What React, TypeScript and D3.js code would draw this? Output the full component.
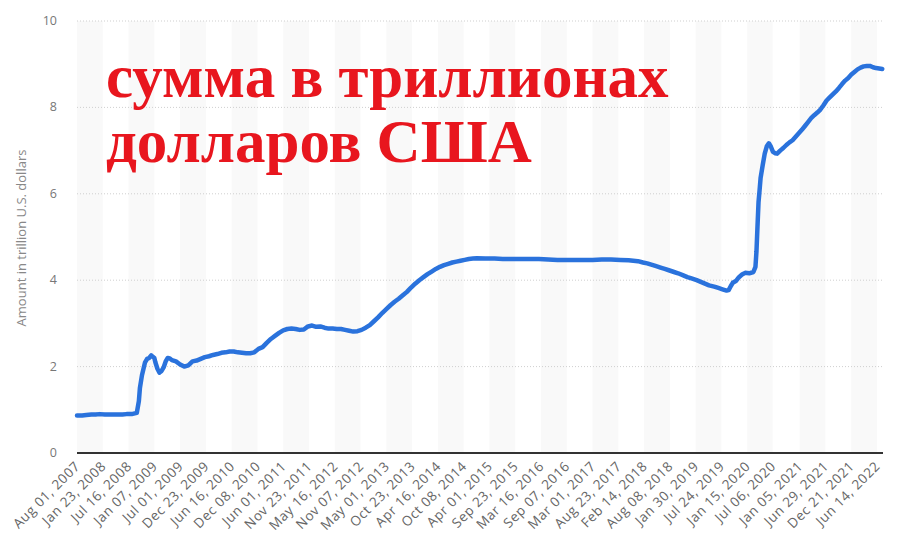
import React, { useEffect, useRef } from 'react';
import * as d3 from 'd3';

// Weekly-ish readings of the balance sheet, trillion U.S. dollars
const dates = [
  '2007-08-01', '2007-09-05', '2007-10-03', '2007-11-07', '2007-12-05',
  '2008-01-02', '2008-02-06', '2008-03-05', '2008-04-02', '2008-05-07', '2008-06-04',
  '2008-07-02', '2008-08-06', '2008-09-10', '2008-09-24', '2008-10-01', '2008-10-15',
  '2008-11-05', '2008-11-19', '2008-12-03', '2008-12-17',
  '2009-01-07', '2009-01-14', '2009-01-28', '2009-02-11', '2009-02-25', '2009-03-11',
  '2009-03-25', '2009-04-08', '2009-04-22', '2009-05-06', '2009-06-03', '2009-07-01',
  '2009-07-29', '2009-08-26', '2009-09-23', '2009-10-21', '2009-11-18', '2009-12-16',
  '2010-01-13', '2010-02-10', '2010-03-10', '2010-04-07', '2010-05-05', '2010-06-02',
  '2010-06-30', '2010-07-28', '2010-08-25', '2010-09-22', '2010-10-20', '2010-11-17',
  '2010-12-15',
  '2011-01-12', '2011-02-09', '2011-03-09', '2011-04-06', '2011-05-04', '2011-06-01',
  '2011-06-29', '2011-07-27', '2011-08-24', '2011-09-21', '2011-10-19', '2011-11-16',
  '2011-12-14',
  '2012-01-11', '2012-02-08', '2012-03-07', '2012-04-04', '2012-05-02', '2012-05-30',
  '2012-06-27', '2012-07-25', '2012-08-22', '2012-09-19', '2012-10-17', '2012-11-14',
  '2012-12-12',
  '2013-01-09', '2013-02-06', '2013-03-06', '2013-04-03', '2013-05-01', '2013-05-29',
  '2013-06-26', '2013-07-24', '2013-08-21', '2013-09-18', '2013-10-16', '2013-11-13',
  '2013-12-11',
  '2014-01-08', '2014-02-05', '2014-03-05', '2014-04-02', '2014-04-30', '2014-05-28',
  '2014-06-25', '2014-07-23', '2014-08-20', '2014-09-17', '2014-10-15', '2014-11-12',
  '2014-12-10',
  '2015-01-07', '2015-03-04', '2015-05-06', '2015-07-01', '2015-09-02', '2015-11-04',
  '2016-01-06', '2016-03-02', '2016-05-04', '2016-07-06', '2016-09-07', '2016-11-02',
  '2017-01-04', '2017-03-01', '2017-05-03', '2017-07-05', '2017-09-06', '2017-11-01',
  '2018-01-03', '2018-02-07', '2018-03-07', '2018-04-04', '2018-05-02', '2018-06-06',
  '2018-07-04', '2018-08-01', '2018-09-05', '2018-10-03', '2018-11-07', '2018-12-05',
  '2019-01-02', '2019-02-06', '2019-03-06', '2019-04-03', '2019-05-01', '2019-06-05',
  '2019-07-03', '2019-07-31', '2019-08-28', '2019-09-11', '2019-09-25', '2019-10-09',
  '2019-10-30', '2019-11-20', '2019-12-11',
  '2020-01-01', '2020-01-29', '2020-02-26', '2020-03-11', '2020-03-18', '2020-03-25',
  '2020-04-01', '2020-04-08', '2020-04-15', '2020-04-29', '2020-05-13', '2020-05-27',
  '2020-06-10', '2020-06-24', '2020-07-08', '2020-07-22', '2020-08-05', '2020-08-26',
  '2020-09-16', '2020-10-07', '2020-10-28', '2020-11-18', '2020-12-09', '2020-12-30',
  '2021-01-20', '2021-02-10', '2021-03-03', '2021-03-24', '2021-04-14', '2021-05-05',
  '2021-05-26', '2021-06-16', '2021-07-07', '2021-07-28', '2021-08-18', '2021-09-08',
  '2021-09-29', '2021-10-20', '2021-11-10', '2021-12-01', '2021-12-22',
  '2022-01-12', '2022-02-02', '2022-02-23', '2022-03-16', '2022-04-06', '2022-04-27',
  '2022-05-18', '2022-06-08', '2022-06-29', '2022-07-20',
];

const values = [
  0.87, 0.87, 0.88, 0.89, 0.89,
  0.90, 0.89, 0.89, 0.89, 0.89, 0.89,
  0.90, 0.90, 0.93, 1.20, 1.50, 1.80,
  2.10, 2.18, 2.20, 2.26,
  2.20, 2.10, 1.95, 1.86, 1.90, 1.98,
  2.12, 2.20, 2.19, 2.15, 2.12, 2.05,
  2.00, 2.03, 2.12, 2.14, 2.18, 2.22,
  2.24, 2.27, 2.29, 2.32, 2.33, 2.35,
  2.35, 2.33, 2.32, 2.31, 2.31, 2.33,
  2.41,
  2.45, 2.55, 2.64, 2.71, 2.78, 2.84,
  2.87, 2.88, 2.87, 2.85, 2.86, 2.93,
  2.95,
  2.92, 2.93, 2.90, 2.88, 2.88, 2.87,
  2.87, 2.85, 2.83, 2.81, 2.82, 2.85,
  2.90,
  2.96, 3.05, 3.14, 3.24, 3.33, 3.42,
  3.50, 3.57, 3.65, 3.73, 3.83, 3.92,
  4.00,
  4.07, 4.14, 4.20, 4.26, 4.31, 4.35,
  4.38, 4.41, 4.43, 4.45, 4.47, 4.49,
  4.50,
  4.51, 4.50, 4.50, 4.49, 4.49, 4.49,
  4.49, 4.49, 4.48, 4.47, 4.47, 4.47,
  4.47, 4.47, 4.48, 4.48, 4.47, 4.46,
  4.44, 4.41, 4.39, 4.36, 4.33, 4.29,
  4.26, 4.23, 4.19, 4.16, 4.11, 4.07,
  4.04, 4.00, 3.96, 3.92, 3.88, 3.85,
  3.82, 3.79, 3.76, 3.77, 3.86, 3.94,
  3.98, 4.07, 4.13,
  4.17, 4.16, 4.19, 4.31, 4.67, 5.25,
  5.81, 6.08, 6.37, 6.66, 6.93, 7.10,
  7.17, 7.09, 6.97, 6.94, 6.93, 7.00,
  7.06, 7.13, 7.19, 7.24, 7.32, 7.40,
  7.48, 7.57, 7.66, 7.75, 7.82, 7.88,
  7.95, 8.05, 8.16, 8.23, 8.30, 8.37,
  8.45, 8.54, 8.62, 8.68, 8.76,
  8.82, 8.88, 8.92, 8.95, 8.96, 8.96,
  8.93, 8.91, 8.90, 8.89,
];

const tickLabels = [
  'Aug 01, 2007', 'Jan 23, 2008', 'Jul 16, 2008', 'Jan 07, 2009', 'Jul 01, 2009',
  'Dec 23, 2009', 'Jun 16, 2010', 'Dec 08, 2010', 'Jun 01, 2011', 'Nov 23, 2011',
  'May 16, 2012', 'Nov 07, 2012', 'May 01, 2013', 'Oct 23, 2013', 'Apr 16, 2014',
  'Oct 08, 2014', 'Apr 01, 2015', 'Sep 23, 2015', 'Mar 16, 2016', 'Sep 07, 2016',
  'Mar 01, 2017', 'Aug 23, 2017', 'Feb 14, 2018', 'Aug 08, 2018', 'Jan 30, 2019',
  'Jul 24, 2019', 'Jan 15, 2020', 'Jul 06, 2020', 'Jan 05, 2021', 'Jun 29, 2021',
  'Dec 21, 2021', 'Jun 14, 2022',
];

const yTicks = [0, 2, 4, 6, 8, 10];

const W = 900;
const H = 554;

const App: React.FC = () => {
  const svgRef = useRef<SVGSVGElement | null>(null);

  useEffect(() => {
    if (!svgRef.current) return;
    const svg = d3.select(svgRef.current);
    svg.selectAll('*').remove();

    const parseDay = d3.timeParse('%Y-%m-%d');
    const parseTick = d3.timeParse('%b %d, %Y');
    const points = dates.map((d, i) => ({ date: parseDay(d) as Date, value: values[i] }));
    const ticks = tickLabels.map(t => parseTick(t) as Date);

    const left = 77;
    const right = 883;
    const top = 21;
    const bottom = 453;

    const x = d3.scaleTime()
      .domain([parseDay('2007-08-01') as Date, parseDay('2022-07-25') as Date])
      .range([left, right]);
    const y = d3.scaleLinear().domain([0, 10]).range([bottom, top]);

    svg.append('rect').attr('width', W).attr('height', H).attr('fill', '#fff');

    // alternating background bands between ticks
    const bands = svg.append('g');
    ticks.forEach((t, i) => {
      if (i % 2 !== 0) return;
      const x0 = x(t);
      const x1 = i + 1 < ticks.length ? x(ticks[i + 1]) : right;
      bands.append('rect')
        .attr('x', x0)
        .attr('y', top)
        .attr('width', x1 - x0)
        .attr('height', bottom - top)
        .attr('fill', '#f9f9f9');
    });

    // horizontal grid
    svg.append('g')
      .selectAll('line')
      .data(yTicks.filter(v => v > 0))
      .enter()
      .append('line')
      .attr('x1', left)
      .attr('x2', right)
      .attr('y1', d => y(d))
      .attr('y2', d => y(d))
      .attr('stroke', '#cfcfcf')
      .attr('stroke-width', 1)
      .attr('stroke-dasharray', '1,2');

    // y tick labels
    svg.append('g')
      .selectAll('text')
      .data(yTicks)
      .enter()
      .append('text')
      .attr('x', 57)
      .attr('y', d => y(d) + 4)
      .attr('text-anchor', 'end')
      .attr('fill', '#777')
      .style('font-family', '"Open Sans", sans-serif')
      .style('font-size', '12.5px')
      .text(d => d);

    // y axis title
    svg.append('text')
      .attr('transform', `translate(26,238) rotate(-90)`)
      .attr('text-anchor', 'middle')
      .attr('fill', '#888')
      .style('font-family', '"Open Sans", sans-serif')
      .style('font-size', '13px')
      .text('Amount in trillion U.S. dollars');

    // x tick labels
    svg.append('g')
      .selectAll('text')
      .data(ticks)
      .enter()
      .append('text')
      .attr('transform', (d: Date) => `translate(${x(d) + 4},${bottom + 14}) rotate(-45)`)
      .attr('text-anchor', 'end')
      .attr('fill', '#666')
      .style('font-family', '"Open Sans", sans-serif')
      .style('font-size', '13.5px')
      .style('letter-spacing', '0.6px')
      .text((_d, i) => tickLabels[i]);

    // baseline
    svg.append('line')
      .attr('x1', left)
      .attr('x2', right)
      .attr('y1', y(0))
      .attr('y2', y(0))
      .attr('stroke', '#333')
      .attr('stroke-width', 2);

    // the series line
    const line = d3.line<{ date: Date; value: number }>()
      .x(d => x(d.date))
      .y(d => y(d.value));

    svg.append('path')
      .datum(points)
      .attr('d', line)
      .attr('fill', 'none')
      .attr('stroke', '#2a72dc')
      .attr('stroke-width', 4.5)
      .attr('stroke-linejoin', 'round')
      .attr('stroke-linecap', 'round');

    // red overlay caption
    const caption = svg.append('g')
      .attr('fill', '#e8161e')
      .style('font-family', '"Liberation Serif", "Times New Roman", serif')
      .style('font-weight', 'bold')
      .style('font-size', '61px');
    caption.append('text').attr('x', 106).attr('y', 97).text('сумма в триллионах');
    caption.append('text').attr('x', 106).attr('y', 162).text('долларов США');
  }, []);

  return (
    <div style={{ position: 'absolute', left: 0, top: 0 }}>
      <svg ref={svgRef} width={W} height={H} />
    </div>
  );
};

export default App;
